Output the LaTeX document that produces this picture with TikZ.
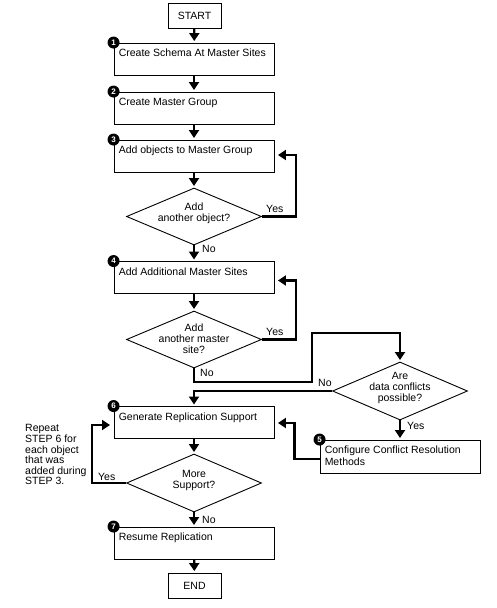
\documentclass[tikz,border=0pt]{standalone}
\usepackage{fontspec}
\setmainfont{Liberation Sans}
\usetikzlibrary{shapes.geometric,arrows.meta,calc}
\tikzset{
  stepbox/.style={draw,line width=0.9pt,minimum width=160pt,minimum height=32pt,inner sep=0pt},
  termbox/.style={draw,line width=0.9pt,minimum width=53pt,minimum height=25pt,inner sep=0pt,font=\fontsize{10.5}{12}\selectfont},
  boxtext/.style={anchor=north west,inner sep=0pt,align=left,font=\fontsize{10.5}{12}\selectfont},
  dec/.style={draw,diamond,line width=0.9pt,minimum width=135pt,minimum height=57pt,inner sep=0pt},
  dectext/.style={inner sep=0pt,align=center,font=\fontsize{10.5}{11}\selectfont},
  lbl/.style={anchor=west,inner sep=0pt,font=\fontsize{10.5}{12}\selectfont},
  num/.style={circle,fill=black,minimum size=12pt,inner sep=0pt,text=white,font=\bfseries\fontsize{8}{8}\selectfont},
  arr/.style={line width=2.3pt,-{Triangle[width=10pt,length=8pt]},shorten >=1.5pt},
  note/.style={anchor=north west,inner sep=0pt,align=left,font=\fontsize{10.5}{10.6}\selectfont},
}
\begin{document}
\begin{tikzpicture}[x=1pt,y=-1pt]
\useasboundingbox (0,0) rectangle (496,608);
% terminals and steps
\node[termbox] (start) at (194.5,15.5) {START};
\node[stepbox] (b1) at (194,59) {};
\node[stepbox] (b2) at (194,108) {};
\node[stepbox] (b3) at (194,156) {};
\node[dec] (d1) at (194,216.5) {};
\node[stepbox] (b4) at (194,277.5) {};
\node[dec] (d2) at (194,339.5) {};
\node[dec,minimum height=58pt] (d3) at (400,391) {};
\node[stepbox] (b6) at (194,422.5) {};
\node[stepbox,minimum height=33pt] (b5) at (400,456.5) {};
\node[dec,minimum height=58pt] (d4) at (194,483) {};
\node[stepbox] (b7) at (194,543) {};
\node[termbox] (end) at (194.5,585.5) {END};
% texts in boxes
\node[boxtext] (t1) at ($(b1.north west)+(5,6.5)$) {Create Schema At Master Sites};
\node[boxtext] (t2) at ($(b2.north west)+(5,6.5)$) {Create Master Group};
\node[boxtext] (t3) at ($(b3.north west)+(5,6.5)$) {Add objects to Master Group};
\node[boxtext] (t4) at ($(b4.north west)+(5,6.5)$) {Add Additional Master Sites};
\node[boxtext] (t6) at ($(b6.north west)+(5,6.5)$) {Generate Replication Support};
\node[boxtext] (t5) at ($(b5.north west)+(5,6)$) {Configure Conflict Resolution\\Methods};
\node[boxtext] (t7) at ($(b7.north west)+(5,6.5)$) {Resume Replication};
% diamond texts
\node[dectext] (dt1) at ($(d1.center)+(0,-3)$) {Add\\another object?};
\node[dectext] (dt2) at ($(d2.center)+(0,-1)$) {Add\\another master\\site?};
\node[dectext] (dt3) at ($(d3.center)+(0,-3)$) {Are\\data conflicts\\possible?};
\node[dectext] (dt4) at ($(d4.center)+(0,-3)$) {More\\Support?};
% numbers
\node[num] (n1) at (b1.north west) {1};
\node[num] (n2) at (b2.north west) {2};
\node[num] (n3) at (b3.north west) {3};
\node[num] (n4) at (b4.north west) {4};
\node[num] (n5) at (b5.north west) {5};
\node[num] (n6) at (b6.north west) {6};
\node[num] (n7) at (b7.north west) {7};
% note
\node[note] (rep) at (25,424.5) {Repeat\\STEP 6 for\\each object\\that was\\added during\\STEP 3.};
% straight arrows
\draw[arr] (start) -- (b1);
\draw[arr] (b1) -- (b2);
\draw[arr] (b2) -- (b3);
\draw[arr] (b3) -- (d1);
\draw[arr] (d1) -- (b4);
\draw[arr] (b4) -- (d2);
\draw[arr] (b6) -- (d4);
\draw[arr] (d4) -- (b7);
\draw[arr] (b7) -- (end);
\draw[arr] (d3) -- (b5);
% loops
\draw[arr,shorten >=3.5pt] (d1.east) -- ++(34,0) |- ($(b3.east)+(0,-1)$);
\draw[arr,shorten >=3.5pt] (d2.east) -- ++(34,0) |- ($(b4.east)+(0,3)$);
\coordinate (c1) at (312,382);
\coordinate (c2) at (312,333);
\draw[arr,line join=miter] (d2.south) |- (c1) -- (c2) -| (d3.north);
\draw[arr] (d3.west) -| (b6.north);
\draw[arr,shorten >=3.5pt] ($(b5.west)+(0,2.5)$) -- ++(-25,0) |- ($(b6.east)+(0,0.5)$);
\draw[arr,shorten >=3.5pt] (d4.west) -- ++(-34,0) |- ($(b6.west)+(0,2.5)$);
% labels
\node[lbl] (y1) at (266,209) {Yes};
\node[lbl] (no1) at (202,249) {No};
\node[lbl] (y2) at (266,332) {Yes};
\node[lbl] (no2) at (200,373) {No};
\node[lbl] (no3) at (318,383) {No};
\node[lbl] (y3) at (407,426) {Yes};
\node[lbl] (y4) at (98,477) {Yes};
\node[lbl] (no4) at (202,520) {No};
\end{tikzpicture}
\end{document}
